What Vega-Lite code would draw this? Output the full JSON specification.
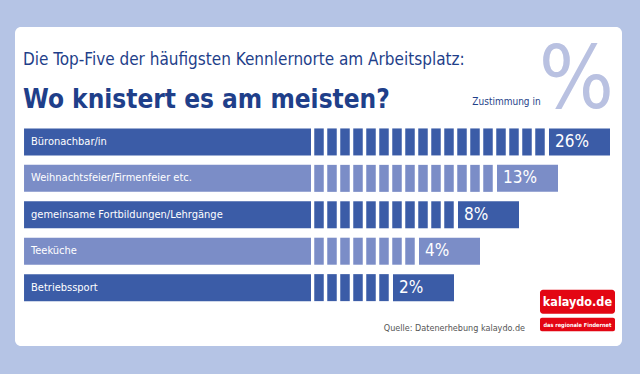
{
  "$schema": "https://vega.github.io/schema/vega-lite/v6.json",
  "width": 607,
  "height": 319,
  "autosize": {"type": "none"},
  "padding": {"left": 15, "top": 27, "right": 18, "bottom": 28},
  "background": "#b5c4e5",
  "config": {
    "view": {"fill": "white", "stroke": null, "cornerRadius": 6},
    "font": "DejaVu Sans Condensed, Roboto, sans-serif"
  },
  "datasets": {
    "bars": [
      {"cat": "Büronachbar/in", "rank": 1, "value": 26, "segs": 18},
      {"cat": "Weihnachtsfeier/Firmenfeier etc.", "rank": 2, "value": 13, "segs": 14},
      {"cat": "gemeinsame Fortbildungen/Lehrgänge", "rank": 3, "value": 8, "segs": 11},
      {"cat": "Teeküche", "rank": 4, "value": 4, "segs": 8},
      {"cat": "Betriebssport", "rank": 5, "value": 2, "segs": 6}
    ],
    "segments": [
      {"cat": "Büronachbar/in", "rank": 1, "seg": 1}, {"cat": "Büronachbar/in", "rank": 1, "seg": 2}, {"cat": "Büronachbar/in", "rank": 1, "seg": 3}, {"cat": "Büronachbar/in", "rank": 1, "seg": 4}, {"cat": "Büronachbar/in", "rank": 1, "seg": 5}, {"cat": "Büronachbar/in", "rank": 1, "seg": 6}, {"cat": "Büronachbar/in", "rank": 1, "seg": 7}, {"cat": "Büronachbar/in", "rank": 1, "seg": 8}, {"cat": "Büronachbar/in", "rank": 1, "seg": 9}, {"cat": "Büronachbar/in", "rank": 1, "seg": 10}, {"cat": "Büronachbar/in", "rank": 1, "seg": 11}, {"cat": "Büronachbar/in", "rank": 1, "seg": 12}, {"cat": "Büronachbar/in", "rank": 1, "seg": 13}, {"cat": "Büronachbar/in", "rank": 1, "seg": 14}, {"cat": "Büronachbar/in", "rank": 1, "seg": 15}, {"cat": "Büronachbar/in", "rank": 1, "seg": 16}, {"cat": "Büronachbar/in", "rank": 1, "seg": 17}, {"cat": "Büronachbar/in", "rank": 1, "seg": 18},
      {"cat": "Weihnachtsfeier/Firmenfeier etc.", "rank": 2, "seg": 1}, {"cat": "Weihnachtsfeier/Firmenfeier etc.", "rank": 2, "seg": 2}, {"cat": "Weihnachtsfeier/Firmenfeier etc.", "rank": 2, "seg": 3}, {"cat": "Weihnachtsfeier/Firmenfeier etc.", "rank": 2, "seg": 4}, {"cat": "Weihnachtsfeier/Firmenfeier etc.", "rank": 2, "seg": 5}, {"cat": "Weihnachtsfeier/Firmenfeier etc.", "rank": 2, "seg": 6}, {"cat": "Weihnachtsfeier/Firmenfeier etc.", "rank": 2, "seg": 7}, {"cat": "Weihnachtsfeier/Firmenfeier etc.", "rank": 2, "seg": 8}, {"cat": "Weihnachtsfeier/Firmenfeier etc.", "rank": 2, "seg": 9}, {"cat": "Weihnachtsfeier/Firmenfeier etc.", "rank": 2, "seg": 10}, {"cat": "Weihnachtsfeier/Firmenfeier etc.", "rank": 2, "seg": 11}, {"cat": "Weihnachtsfeier/Firmenfeier etc.", "rank": 2, "seg": 12}, {"cat": "Weihnachtsfeier/Firmenfeier etc.", "rank": 2, "seg": 13}, {"cat": "Weihnachtsfeier/Firmenfeier etc.", "rank": 2, "seg": 14},
      {"cat": "gemeinsame Fortbildungen/Lehrgänge", "rank": 3, "seg": 1}, {"cat": "gemeinsame Fortbildungen/Lehrgänge", "rank": 3, "seg": 2}, {"cat": "gemeinsame Fortbildungen/Lehrgänge", "rank": 3, "seg": 3}, {"cat": "gemeinsame Fortbildungen/Lehrgänge", "rank": 3, "seg": 4}, {"cat": "gemeinsame Fortbildungen/Lehrgänge", "rank": 3, "seg": 5}, {"cat": "gemeinsame Fortbildungen/Lehrgänge", "rank": 3, "seg": 6}, {"cat": "gemeinsame Fortbildungen/Lehrgänge", "rank": 3, "seg": 7}, {"cat": "gemeinsame Fortbildungen/Lehrgänge", "rank": 3, "seg": 8}, {"cat": "gemeinsame Fortbildungen/Lehrgänge", "rank": 3, "seg": 9}, {"cat": "gemeinsame Fortbildungen/Lehrgänge", "rank": 3, "seg": 10}, {"cat": "gemeinsame Fortbildungen/Lehrgänge", "rank": 3, "seg": 11},
      {"cat": "Teeküche", "rank": 4, "seg": 1}, {"cat": "Teeküche", "rank": 4, "seg": 2}, {"cat": "Teeküche", "rank": 4, "seg": 3}, {"cat": "Teeküche", "rank": 4, "seg": 4}, {"cat": "Teeküche", "rank": 4, "seg": 5}, {"cat": "Teeküche", "rank": 4, "seg": 6}, {"cat": "Teeküche", "rank": 4, "seg": 7}, {"cat": "Teeküche", "rank": 4, "seg": 8},
      {"cat": "Betriebssport", "rank": 5, "seg": 1}, {"cat": "Betriebssport", "rank": 5, "seg": 2}, {"cat": "Betriebssport", "rank": 5, "seg": 3}, {"cat": "Betriebssport", "rank": 5, "seg": 4}, {"cat": "Betriebssport", "rank": 5, "seg": 5}, {"cat": "Betriebssport", "rank": 5, "seg": 6}
    ],
    "notes": [{"sub": "Die Top-Five der häufigsten Kennlernorte am Arbeitsplatz:", "head": "Wo knistert es am meisten?", "unit": "Zustimmung in", "pct": "%", "src": "Quelle: Datenerhebung kalaydo.de", "logo": "kalaydo.de", "claim": "das regionale Findernet"}]
  },
  "layer": [
    {
      "data": {"name": "bars"},
      "mark": {"type": "bar", "height": 27},
      "encoding": {
        "x": {"datum": -21.69, "type": "quantitative", "scale": {"domain": [-22.385, 24.308], "nice": false, "zero": false}, "axis": null},
        "x2": {"datum": 0.385},
        "y": {"field": "rank", "type": "quantitative", "scale": {"domain": [-2.0186, 6.4654], "nice": false, "zero": false, "reverse": true}, "axis": null},
        "color": {"field": "cat", "type": "nominal", "legend": null, "scale": {"domain": ["Büronachbar/in", "Weihnachtsfeier/Firmenfeier etc.", "gemeinsame Fortbildungen/Lehrgänge", "Teeküche", "Betriebssport"], "range": ["#3b5ca7", "#7b8dc7", "#3b5ca7", "#7b8dc7", "#3b5ca7"]}}
      }
    },
    {
      "data": {"name": "segments"},
      "mark": {"type": "tick", "orient": "vertical", "thickness": 9.5, "size": 27, "opacity": 1},
      "encoding": {
        "x": {"field": "seg", "type": "quantitative"},
        "y": {"field": "rank", "type": "quantitative"},
        "color": {"field": "cat", "type": "nominal", "legend": null}
      }
    },
    {
      "data": {"name": "bars"},
      "mark": {"type": "tick", "orient": "vertical", "thickness": 61, "size": 27, "xOffset": 39.5, "opacity": 1},
      "encoding": {
        "x": {"field": "segs", "type": "quantitative"},
        "y": {"field": "rank", "type": "quantitative"},
        "color": {"field": "cat", "type": "nominal", "legend": null}
      }
    },
    {
      "data": {"name": "bars"},
      "mark": {"type": "text", "align": "left", "baseline": "middle", "color": "white", "fontSize": 11},
      "encoding": {
        "x": {"datum": -21.15, "type": "quantitative"},
        "y": {"field": "rank", "type": "quantitative"},
        "text": {"field": "cat"}
      }
    },
    {
      "data": {"name": "bars"},
      "transform": [{"calculate": "datum.value + '%'", "as": "label"}],
      "mark": {"type": "text", "align": "left", "baseline": "middle", "color": "white", "fontSize": 17, "dx": 15},
      "encoding": {
        "x": {"field": "segs", "type": "quantitative"},
        "y": {"field": "rank", "type": "quantitative"},
        "text": {"field": "label"}
      }
    },
    {
      "data": {"name": "notes"},
      "mark": {"type": "text", "align": "left", "baseline": "alphabetic", "color": "#1f3f8a", "fontSize": 17},
      "encoding": {
        "x": {"datum": -21.77, "type": "quantitative"},
        "y": {"datum": -1.1, "type": "quantitative"},
        "text": {"field": "sub"}
      }
    },
    {
      "data": {"name": "notes"},
      "mark": {"type": "text", "align": "left", "baseline": "alphabetic", "color": "#1f3f8a", "fontSize": 26, "fontWeight": "bold"},
      "encoding": {
        "x": {"datum": -21.77, "type": "quantitative"},
        "y": {"datum": 0.056, "type": "quantitative"},
        "text": {"field": "head"}
      }
    },
    {
      "data": {"name": "notes"},
      "mark": {"type": "text", "align": "center", "baseline": "alphabetic", "color": "#b9c1e1", "fontSize": 88},
      "encoding": {
        "x": {"datum": 20.8, "type": "quantitative"},
        "y": {"datum": 0.056, "type": "quantitative"},
        "text": {"field": "pct"}
      }
    },
    {
      "data": {"name": "notes"},
      "mark": {"type": "text", "align": "right", "baseline": "alphabetic", "color": "#1f3f8a", "fontSize": 10},
      "encoding": {
        "x": {"datum": 18.05, "type": "quantitative"},
        "y": {"datum": -0.024, "type": "quantitative"},
        "text": {"field": "unit"}
      }
    },
    {
      "data": {"name": "notes"},
      "mark": {"type": "text", "align": "right", "baseline": "middle", "color": "#555555", "fontSize": 9},
      "encoding": {
        "x": {"datum": 16.85, "type": "quantitative"},
        "y": {"datum": 6.12, "type": "quantitative"},
        "text": {"field": "src"}
      }
    },
    {
      "data": {"name": "notes"},
      "mark": {"type": "rect", "color": "#e30613", "cornerRadius": 3},
      "encoding": {
        "x": {"datum": 18.0, "type": "quantitative"},
        "x2": {"datum": 23.77},
        "y": {"datum": 5.056, "type": "quantitative"},
        "y2": {"datum": 5.72}
      }
    },
    {
      "data": {"name": "notes"},
      "mark": {"type": "rect", "color": "#e30613", "cornerRadius": 2},
      "encoding": {
        "x": {"datum": 18.0, "type": "quantitative"},
        "x2": {"datum": 23.77},
        "y": {"datum": 5.827, "type": "quantitative"},
        "y2": {"datum": 6.199}
      }
    },
    {
      "data": {"name": "notes"},
      "mark": {"type": "text", "align": "center", "baseline": "middle", "color": "white", "fontSize": 12.5, "fontWeight": "bold"},
      "encoding": {
        "x": {"datum": 20.88, "type": "quantitative"},
        "y": {"datum": 5.388, "type": "quantitative"},
        "text": {"field": "logo"}
      }
    },
    {
      "data": {"name": "notes"},
      "mark": {"type": "text", "align": "center", "baseline": "middle", "color": "white", "fontSize": 5.6, "fontWeight": "bold"},
      "encoding": {
        "x": {"datum": 20.88, "type": "quantitative"},
        "y": {"datum": 6.013, "type": "quantitative"},
        "text": {"field": "claim"}
      }
    }
  ]
}
